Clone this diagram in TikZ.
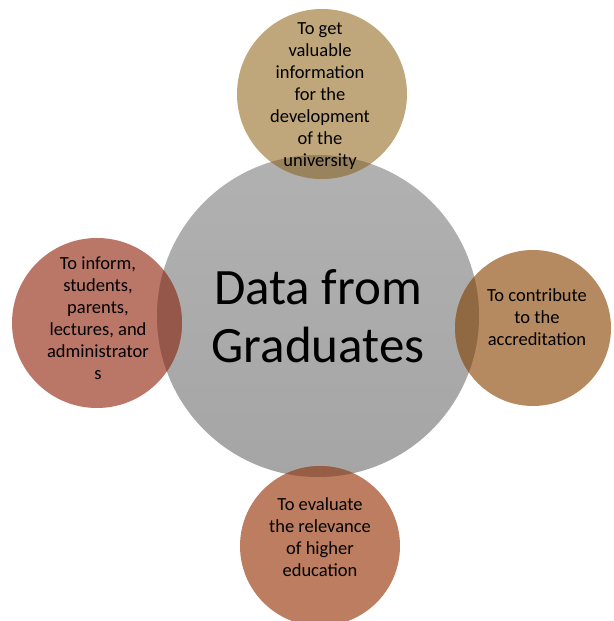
\documentclass[tikz,border=0pt]{standalone}
\usepackage{fontspec}
\setmainfont{Carlito}
\usepackage{tikz}
\usetikzlibrary{positioning}
\definecolor{hubgray}{RGB}{172,172,172}
\definecolor{tanclr}{RGB}{186,160,112}
\definecolor{ochreclr}{RGB}{176,128,82}
\definecolor{rustclr}{RGB}{182,114,84}
\definecolor{brickclr}{RGB}{180,106,90}
\tikzstyle{hub}=[circle,minimum size=322pt,inner sep=0pt,top color=hubgray!94!white,bottom color=hubgray!96!black]
\tikzstyle{aim}=[circle,inner sep=0pt,fill opacity=0.92]
\tikzstyle{aimtext}=[align=center,font=\fontsize{18.5}{22}\selectfont,text=black]

\begin{document}
\begin{tikzpicture}[x=1pt,y=1pt]
\useasboundingbox (0,0) rectangle (613,621);
\node [hub] (data) at (318,305) {};
\node [aim, fill=tanclr, minimum size=170pt] (dev) at (322,527) {};
\node [aim, fill=ochreclr, minimum size=156pt] (accr) at (533,293) {};
\node [aim, fill=rustclr, minimum size=160pt] (eval) at (320,75) {};
\node [aim, fill=brickclr, minimum size=170pt] (inform) at (97,298) {};
% darker where the small circles lie on the big one
\begin{scope}
  \clip (318,305) circle (161);
  \fill [tanclr!82!black] (dev.center) circle (85);
  \fill [ochreclr!82!black] (accr.center) circle (78);
  \fill [rustclr!82!black] (eval.center) circle (80);
  \fill [brickclr!82!black] (inform.center) circle (85);
\end{scope}
\node [align=center,font=\fontsize{51}{58}\selectfont] (datatext) at (data.center) {Data from\\Graduates};
\node [aimtext] (devtext) at (320,525) {To get\\valuable\\information\\for the\\development\\of the\\university};
\node [aimtext] (accrtext) at (537,304) {To contribute\\to the\\accreditation};
\node [aimtext] (evaltext) at (320,84) {To evaluate\\the relevance\\of higher\\education};
\node [aimtext] (informtext) at (98,303) {To inform,\\students,\\parents,\\lectures, and\\administrator\\s};
\end{tikzpicture}
\end{document}
